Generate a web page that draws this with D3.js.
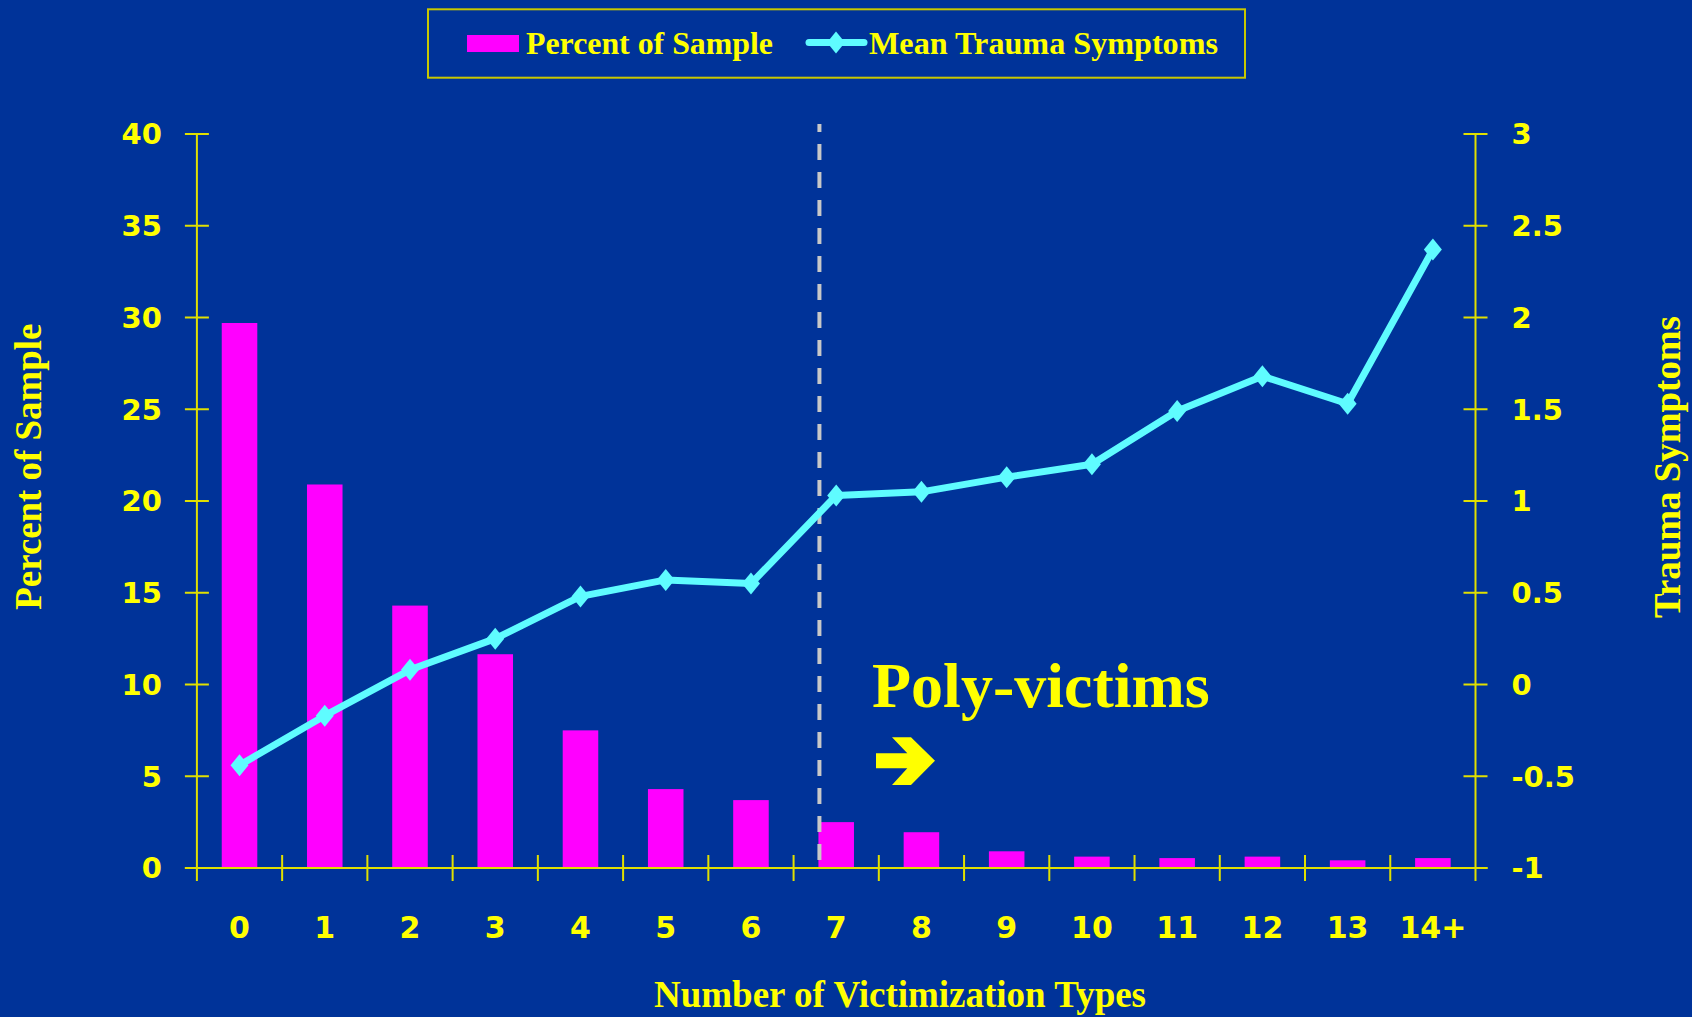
<!DOCTYPE html>
<html>
<head>
<meta charset="utf-8">
<script src="https://cdn.jsdelivr.net/npm/d3@7"></script>
<style>
  html, body { margin: 0; padding: 0; background: #003399; }
  svg { display: block; }
</style>
</head>
<body>
<svg id="chart" width="1692" height="1017"></svg>
<script>
// ---- data ----
const categories = ["0","1","2","3","4","5","6","7","8","9","10","11","12","13","14+"];
const percentSample = [29.7, 20.9, 14.3, 11.65, 7.5, 4.3, 3.7, 2.5, 1.95, 0.91, 0.62, 0.54, 0.62, 0.42, 0.54];
const meanTrauma = [-0.44, -0.17, 0.08, 0.25, 0.48, 0.57, 0.55, 1.03, 1.05, 1.13, 1.20, 1.49, 1.68, 1.53, 2.37];
const leftTicks = [0, 5, 10, 15, 20, 25, 30, 35, 40];
const rightTicks = [-1, -0.5, 0, 0.5, 1, 1.5, 2, 2.5, 3];
const rightTickLabels = ["-1", "-0.5", "0", "0.5", "1", "1.5", "2", "2.5", "3"];
const seriesNames = ["Percent of Sample", "Mean Trauma Symptoms"];
const axisTitles = { left: "Percent of Sample", right: "Trauma Symptoms", bottom: "Number of Victimization Types" };
const annotationText = "Poly-victims";
const polyStartCategory = "7";

(function () {
// ---- style ----
const BG = "#003399", YEL = "#ffff00", AXIS = "#e0e000", BAR = "#ff00ff", LINE = "#5ffcff";
const W = 1692, H = 1017;
const pL = 196.9, pR = 1475.5, pT = 134, pB = 868;

const svg = d3.select("#chart");
svg.append("rect").attr("width", W).attr("height", H).attr("fill", BG);

const pIn = 0.583;
const x = d3.scaleBand().domain(categories).range([pL, pR]).paddingInner(pIn).paddingOuter(pIn / 2);
const step = x.step();
const cx = c => x(c) + x.bandwidth() / 2;
const yL = d3.scaleLinear().domain([0, 40]).range([pB, pT]);
const yR = d3.scaleLinear().domain([-1, 3]).range([pB, pT]);

// ---- bars ----
svg.append("g").selectAll("rect").data(categories).join("rect")
  .attr("x", c => x(c)).attr("width", x.bandwidth())
  .attr("y", (c, i) => yL(percentSample[i]))
  .attr("height", (c, i) => yL(0) - yL(percentSample[i]))
  .attr("fill", BAR);

// ---- axes ----
const gAx = svg.append("g").attr("stroke", AXIS).attr("stroke-width", 2);
gAx.append("line").attr("x1", pL).attr("x2", pL).attr("y1", yL(40)).attr("y2", pB + 13);
gAx.selectAll(".lt").data(leftTicks).join("line")
  .attr("x1", pL - 12).attr("x2", pL + 12).attr("y1", d => yL(d)).attr("y2", d => yL(d));
gAx.append("line").attr("x1", pR).attr("x2", pR).attr("y1", yR(3)).attr("y2", pB + 13);
gAx.selectAll(".rt").data(rightTicks).join("line")
  .attr("x1", pR - 12).attr("x2", pR + 12).attr("y1", d => yR(d)).attr("y2", d => yR(d));
gAx.append("line").attr("x1", pL - 12).attr("x2", pR + 12).attr("y1", pB).attr("y2", pB);
gAx.selectAll(".bt").data(categories.slice(1)).join("line")
  .attr("x1", c => cx(c) - step / 2).attr("x2", c => cx(c) - step / 2)
  .attr("y1", pB - 13).attr("y2", pB + 13);

const tickFont = "'DejaVu Sans', Verdana, sans-serif";
svg.append("g").selectAll("text").data(leftTicks).join("text")
  .attr("x", pL - 35).attr("y", d => yL(d)).attr("dy", "0.36em")
  .attr("text-anchor", "end").attr("fill", YEL)
  .style("font-family", tickFont).style("font-weight", "bold").style("font-size", "29px")
  .text(d => d);
svg.append("g").selectAll("text").data(rightTicks).join("text")
  .attr("x", pR + 36).attr("y", d => yR(d)).attr("dy", "0.36em")
  .attr("text-anchor", "start").attr("fill", YEL)
  .style("font-family", tickFont).style("font-weight", "bold").style("font-size", "29px")
  .text((d, i) => rightTickLabels[i]);
svg.append("g").selectAll("text").data(categories).join("text")
  .attr("x", c => cx(c)).attr("y", 938)
  .attr("text-anchor", "middle").attr("fill", YEL)
  .style("font-family", tickFont).style("font-weight", "bold").style("font-size", "30px")
  .text(c => c);

// ---- dashed separator ----
svg.append("line")
  .attr("x1", x(polyStartCategory) + 1).attr("x2", x(polyStartCategory) + 1)
  .attr("y1", 124).attr("y2", pB)
  .attr("stroke", "#c8c8c8").attr("stroke-width", 4)
  .attr("stroke-dasharray", "16,12").attr("stroke-dashoffset", 8);

// ---- line series ----
const line = d3.line().x((d, i) => cx(categories[i])).y(d => yR(d));
svg.append("path").datum(meanTrauma).attr("d", line)
  .attr("fill", "none").attr("stroke", LINE).attr("stroke-width", 7).attr("stroke-linejoin", "round");
const diamondType = { draw(ctx, size) { const w = 9, h = 11; ctx.moveTo(0, -h); ctx.lineTo(w, 0); ctx.lineTo(0, h); ctx.lineTo(-w, 0); ctx.closePath(); } };
const sym = d3.symbol().type(diamondType);
svg.append("g").selectAll("path").data(meanTrauma).join("path")
  .attr("transform", (d, i) => `translate(${cx(categories[i])},${yR(d)})`)
  .attr("d", sym()).attr("fill", LINE);

// ---- titles ----
const serif = "'Liberation Serif', 'Times New Roman', serif";
svg.append("text").attr("transform", "translate(41,466.7) rotate(-90)")
  .attr("text-anchor", "middle").attr("fill", YEL)
  .style("font-family", serif).style("font-weight", "bold").style("font-size", "37px")
  .attr("textLength", 286).attr("lengthAdjust", "spacingAndGlyphs")
  .text(axisTitles.left);
svg.append("text").attr("transform", "translate(1680,467) rotate(-90)")
  .attr("text-anchor", "middle").attr("fill", YEL)
  .style("font-family", serif).style("font-weight", "bold").style("font-size", "37px")
  .attr("textLength", 302).attr("lengthAdjust", "spacingAndGlyphs")
  .text(axisTitles.right);
svg.append("text").attr("x", 900).attr("y", 1007)
  .attr("text-anchor", "middle").attr("fill", YEL)
  .style("font-family", serif).style("font-weight", "bold").style("font-size", "37px")
  .attr("textLength", 492).attr("lengthAdjust", "spacingAndGlyphs")
  .text(axisTitles.bottom);

// ---- annotation ----
svg.append("text").attr("x", 872).attr("y", 707)
  .attr("fill", YEL)
  .style("font-family", serif).style("font-weight", "bold").style("font-size", "64px")
  .text(annotationText);
const arrowPts = [[876,753.3],[907.3,753.3],[892,737.3],[911,737.3],[935,760.7],[911,785],[892,785],[907.3,768.3],[876,768.3]];
svg.append("path").attr("d", "M" + arrowPts.map(p => p.join(",")).join("L") + "Z").attr("fill", YEL);

// ---- legend ----
const lg = svg.append("g");
lg.append("rect").attr("x", 428).attr("y", 9.3).attr("width", 817).attr("height", 68.4)
  .attr("fill", "none").attr("stroke", "#c8c800").attr("stroke-width", 2);
lg.append("rect").attr("x", 467).attr("y", 35).attr("width", 52).attr("height", 17).attr("fill", BAR);
lg.append("text").attr("x", 526).attr("y", 54).attr("fill", YEL)
  .style("font-family", serif).style("font-weight", "bold").style("font-size", "32px")
  .attr("textLength", 247).attr("lengthAdjust", "spacingAndGlyphs")
  .text(seriesNames[0]);
lg.append("line").attr("x1", 809).attr("x2", 864).attr("y1", 42.5).attr("y2", 42.5)
  .attr("stroke", LINE).attr("stroke-width", 7).attr("stroke-linecap", "round");
lg.append("path").attr("transform", "translate(836,42.5)").attr("d", sym()).attr("fill", LINE);
lg.append("text").attr("x", 869).attr("y", 54).attr("fill", YEL)
  .style("font-family", serif).style("font-weight", "bold").style("font-size", "32px")
  .attr("textLength", 349).attr("lengthAdjust", "spacingAndGlyphs")
  .text(seriesNames[1]);
})();
</script>
</body>
</html>
